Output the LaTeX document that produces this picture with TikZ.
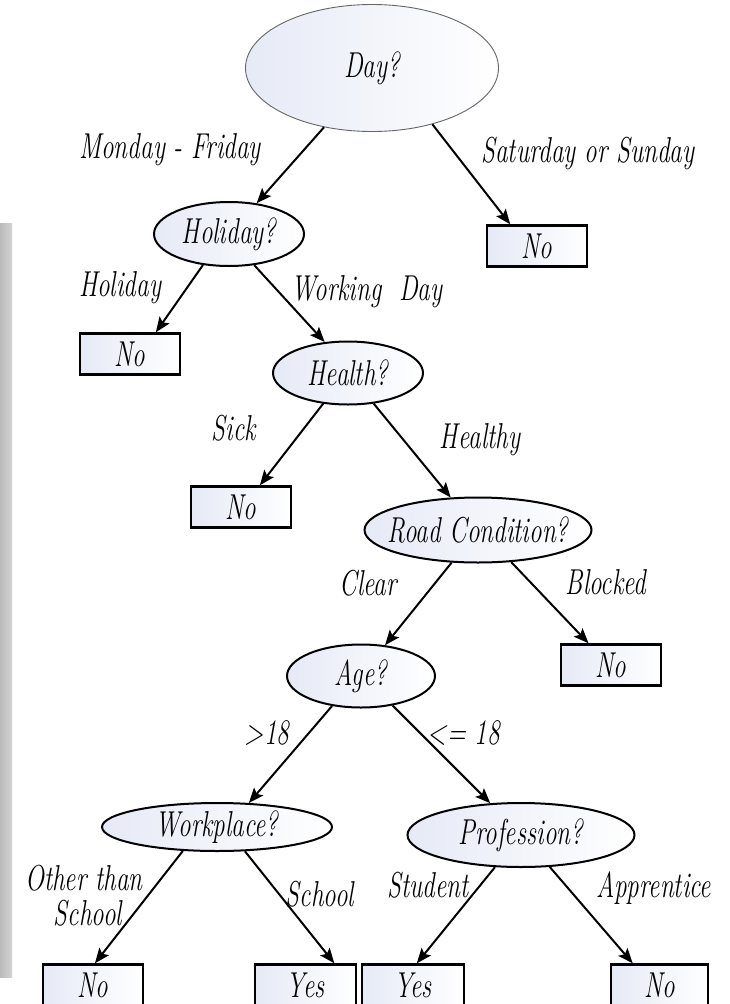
\documentclass[tikz,border=0pt]{standalone}
\usepackage{fontspec}
\setmainfont{Latin Modern Roman}
\usetikzlibrary{arrows.meta,shapes.geometric}
\usepackage{graphicx}
\definecolor{nodeblue}{RGB}{230,234,246}
\newcommand{\hw}[1]{\scalebox{0.7}[1]{\fontsize{36}{38}\selectfont\itshape #1}}
\begin{document}
\begin{tikzpicture}[x=1pt,y=-1pt,
  dec/.style={ellipse, draw, line width=2pt, left color=nodeblue, middle color=white, right color=white, inner sep=0pt},
  leaf/.style={rectangle, draw, line width=2.4pt, left color=nodeblue, middle color=white, right color=white, minimum width=100pt, minimum height=41pt, inner sep=0pt},
  arr/.style={line width=2pt, -{Stealth[length=15pt,width=12pt,inset=3pt]}},
  lbl/.style={inner sep=0pt}
]
\useasboundingbox (0,0) rectangle (730,1004);
\fill[white] (0,0) rectangle (730,1004);
\fill[left color=black!27, right color=black!17] (0,223) rectangle (12,977);

% decision nodes
\node[dec, draw=black!60, line width=0.9pt, minimum width=253pt, minimum height=127pt, label={[lbl]center:\hw{Day?}}] (day) at (372,68) {};
\node[dec, minimum width=150pt, minimum height=64pt, label={[lbl]center:\hw{Holiday?}}] (hol) at (229,234) {};
\node[dec, minimum width=150pt, minimum height=63pt, label={[lbl]center:\hw{Health?}}] (hea) at (348,373) {};
\node[dec, minimum width=227pt, minimum height=65pt, label={[lbl]center:\hw{Road Condition?}}] (road) at (478,530) {};
\node[dec, minimum width=148pt, minimum height=63pt, label={[lbl]center:\hw{Age?}}] (age) at (361,676) {};
\node[dec, minimum width=230pt, minimum height=48pt, label={[lbl]center:\hw{Workplace?}}] (work) at (217,827) {};
\node[dec, minimum width=227pt, minimum height=64pt, label={[lbl]center:\hw{Profession?}}] (prof) at (521,835) {};

% leaves
\node[leaf] (n1) at (537,246) {\hw{No}};
\node[leaf] (n2) at (130,354) {\hw{No}};
\node[leaf] (n3) at (241,507) {\hw{No}};
\node[leaf] (n4) at (611,665) {\hw{No}};
\node[leaf] (b1) at (93,985) {\hw{No}};
\node[leaf, minimum width=101pt] (b2) at (305.5,985) {\hw{Yes}};
\node[leaf, minimum width=102pt] (b3) at (413,985) {\hw{Yes}};
\node[leaf, minimum width=97pt] (b4) at (659.5,985) {\hw{No}};

% connectors
\draw[arr] (day.231) -- (hol.48);
\draw[arr] (day.-43.5) -- (n1.141);
\draw[arr] (hol.230) -- (n2.40);
\draw[arr] (hol.-51) -- (hea.127.5);
\draw[arr] (hea.231) -- (n3.49.6);
\draw[arr] (hea.-50) -- (road.130);
\draw[arr] (road.231) -- (age.52);
\draw[arr] (road.-44.6) -- (n4.136);
\draw[arr] (age.226.6) -- (work.37.7);
\draw[arr] (age.-43) -- (prof.134);
\draw[arr] (work.215.7) -- (b1.85);
\draw[arr] (work.-41.5) -- (b2.37);
\draw[arr] (prof.231) -- (b3.80);
\draw[arr] (prof.-48) -- (b4.141);

% edge labels
\node[lbl] (t1) at (170,150) {\hw{Monday - Friday}};
\node[lbl] (t2) at (588,153) {\hw{Saturday or Sunday}};
\node[lbl] (t3) at (120,288) {\hw{Holiday}};
\node[lbl] (t4) at (367,292) {\hw{Working\ \ Day}};
\node[lbl] (t5) at (234,428) {\hw{Sick}};
\node[lbl] (t6) at (480,440) {\hw{Healthy}};
\node[lbl] (t7) at (368,583) {\hw{Clear}};
\node[lbl] (t8) at (606,582) {\hw{Blocked}};
\node[lbl] (t9) at (267,733) {\hw{>18}};
\node[lbl] (t10) at (464,733) {\hw{<= 18}};
\node[lbl] (t11) at (84,878) {\hw{Other than}};
\node[lbl] (t12) at (88,913) {\hw{School}};
\node[lbl] (t13) at (320,894) {\hw{School}};
\node[lbl] (t14) at (428,885) {\hw{Student}};
\node[lbl] (t15) at (654,888) {\hw{Apprentice}};
\end{tikzpicture}
\end{document}
